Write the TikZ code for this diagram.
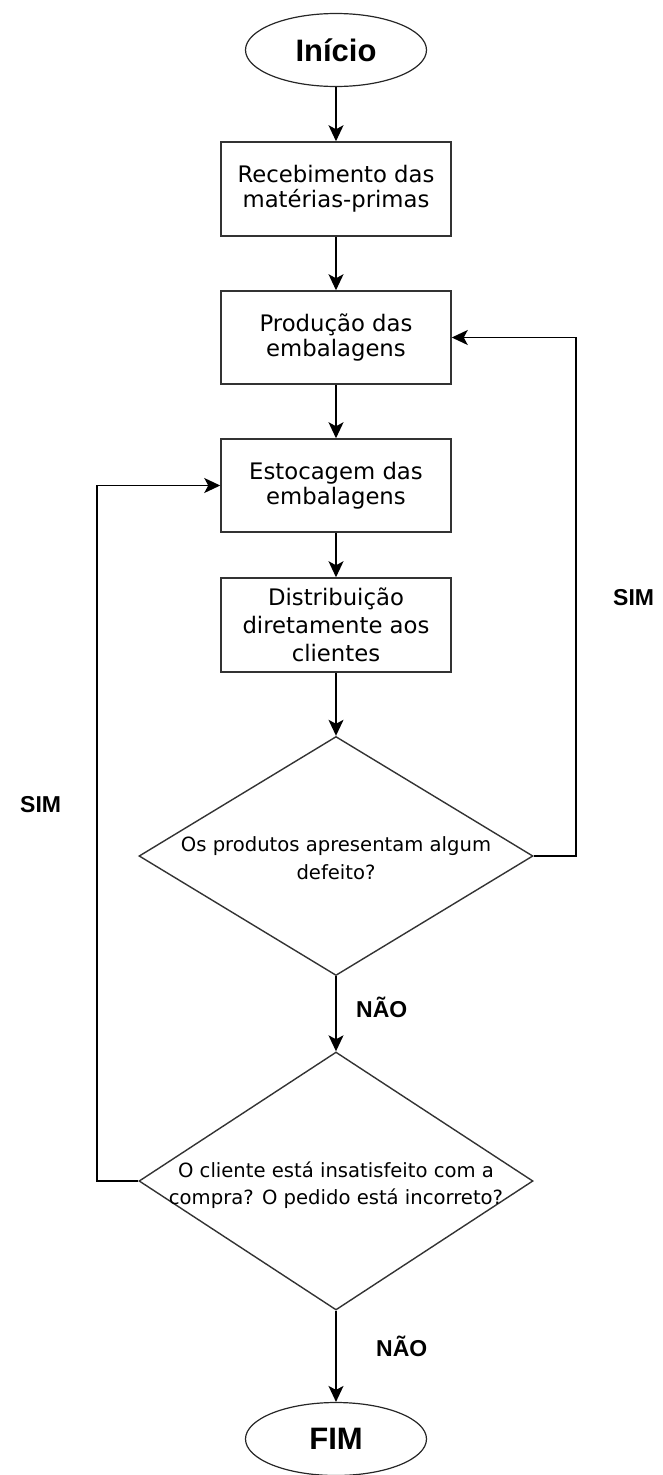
\documentclass[tikz,border=0pt]{standalone}
\usepackage{fontspec}
\setmainfont{DejaVu Sans}
\newfontfamily\labelfont{Liberation Sans}
\usetikzlibrary{shapes.geometric,arrows.meta}

\begin{document}
\begin{tikzpicture}[x=1pt, y=-1pt,
  every node/.style={text=black},
  terminal/.style={ellipse, draw=black!85, line width=1.2pt, minimum width=181pt, minimum height=73pt, inner sep=0pt,
    font=\labelfont\bfseries\fontsize{31}{31}\selectfont},
  stepbox/.style={rectangle, draw=black!80, line width=1.5pt, minimum width=230pt, minimum height=93pt, inner sep=2pt,
    align=center, font=\fontsize{22.75}{25}\selectfont},
  decision/.style={diamond, draw=black!80, line width=1.4pt, minimum width=394pt, inner sep=0pt},
  question/.style={align=center, inner sep=0pt, font=\fontsize{19.6}{28}\selectfont},
  answer/.style={anchor=base west, inner sep=0pt, font=\labelfont\bfseries\fontsize{23}{23}\selectfont},
  flow/.style={line width=1.4pt, -{Stealth[length=16pt, width=15pt, inset=4pt]}}]

  % page
  \useasboundingbox (0,0) rectangle (662,1475);

  % steps
  \node[terminal] (start) at (336,50) {Início};
  \node[stepbox, minimum height=94pt] (recv) at (336,189) {Recebimento das\\matérias-primas};
  \node[stepbox] (prod) at (336,337.5) {Produção das\\embalagens};
  \node[stepbox] (stock) at (336,485.5) {Estocagem das\\embalagens};
  \node[stepbox, minimum height=94pt, font=\fontsize{22.75}{28}\selectfont] (distr) at (336,625)
    {Distribuição\\diretamente aos\\clientes};

  % decisions
  \node[decision, minimum height=239pt] (test1) at (336,856) {};
  \node[question] (test1txt) at (336,858) {Os produtos apresentam algum\\defeito?};
  \node[decision, minimum height=258pt] (test2) at (336,1181) {};
  \node[question, font=\fontsize{19.6}{27}\selectfont] (test2txt) at (336,1185)
    {O cliente está insatisfeito com a\\compra? O pedido está incorreto?};

  \node[terminal] (end) at (336,1439) {FIM};

  % main flow
  \draw[flow] (start) -- (recv);
  \draw[flow] (recv) -- (prod);
  \draw[flow] (prod) -- (stock);
  \draw[flow] (stock) -- (distr);
  \draw[flow] (distr) -- (test1);
  \draw[flow] (test1) -- (test2);
  \draw[flow] (test2) -- (end);

  % loops back
  \coordinate (backR) at (576,856);
  \coordinate (backL) at (97,1181);
  \draw[flow] (test1.east) -- (backR) |- (prod.east);
  \draw[flow] (test2.west) -- (backL) |- (stock.west);

  % answers
  \node[answer] (noA) at (356,1017) {NÃO};
  \node[answer] (noB) at (376,1356) {NÃO};
  \node[answer] (yesR) at (613,605) {SIM};
  \node[answer] (yesL) at (20,812) {SIM};
\end{tikzpicture}
\end{document}
